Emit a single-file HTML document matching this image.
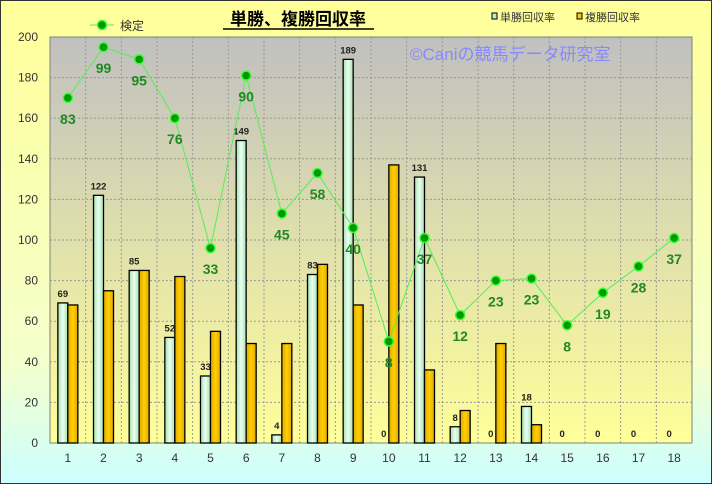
<!DOCTYPE html>
<html><head><meta charset="utf-8"><style>
body{margin:0;width:712px;height:484px;overflow:hidden}
text{font-family:"Liberation Sans","Noto Sans CJK JP",sans-serif}
</style></head><body>
<svg width="712" height="484" viewBox="0 0 712 484" xmlns="http://www.w3.org/2000/svg">
<defs>
<linearGradient id="bg" x1="0" y1="0" x2="0" y2="1"><stop offset="0" stop-color="#FFFF99"/><stop offset="0.75" stop-color="#F4FFCC"/><stop offset="1" stop-color="#CCFFFF"/></linearGradient>
<linearGradient id="pa" x1="0" y1="0" x2="0" y2="1"><stop offset="0" stop-color="#C0C0C0"/><stop offset="1" stop-color="#FFFF99"/></linearGradient>
<linearGradient id="gb" x1="0" y1="0" x2="1" y2="0"><stop offset="0" stop-color="#A8E0B0"/><stop offset="0.5" stop-color="#E8FFF0"/><stop offset="1" stop-color="#A8E0B0"/></linearGradient>
<linearGradient id="yb" x1="0" y1="0" x2="1" y2="0"><stop offset="0" stop-color="#E0A800"/><stop offset="0.5" stop-color="#FFD000"/><stop offset="1" stop-color="#E0A800"/></linearGradient>
</defs>
<rect x="0.5" y="0.5" width="711" height="483" fill="url(#bg)" stroke="#333"/>
<rect x="50" y="37" width="642" height="406" fill="url(#pa)" stroke="#808080"/>
<g id="grid" stroke="#999" stroke-dasharray="2,2" stroke-width="1"></g>
<g id="bars"></g>
<text x="410" y="60" font-size="17" fill="#8888FF">©Caniの競馬データ研究室</text>
<polyline id="ln" fill="none" stroke="#55EE55" stroke-width="1"/>
<g id="pts"></g>
<text x="298" y="25" font-size="17" font-weight="bold" text-anchor="middle" fill="#000">単勝、複勝回収率</text>
<line x1="223" y1="29" x2="374" y2="29" stroke="#000" stroke-width="1.5"/>
<line x1="90" y1="25" x2="114" y2="25" stroke="#55EE55"/><circle cx="102" cy="25" r="4.5" fill="#009900" stroke="#33FF33" stroke-width="1.5"/>
<text x="120" y="30" font-size="12" fill="#333">検定</text>
<rect x="492" y="13" width="5" height="6" fill="#C0F0C0" stroke="#000"/><text x="500" y="21" font-size="11" fill="#333">単勝回収率</text>
<rect x="577" y="13" width="5" height="6" fill="#FFCC00" stroke="#000"/><text x="585" y="21" font-size="11" fill="#333">複勝回収率</text>
<g id="ax" font-size="12" fill="#333"></g>
</svg>
<script>
const W=[69,122,85,52,33,149,4,83,189,0,131,8,0,18,0,0,0,0];
const P=[68,75,85,82,55,49,49,88,68,137,36,16,49,9,0,0,0,0];
const L=[170,195,189,160,96,181,113,133,106,50,101,63,80,81,58,74,87,101];
const LL=[83,99,95,76,33,90,45,58,40,8,37,12,23,23,8,19,28,37];
const y=v=>443-v*2.03, cw=642/18, cx=i=>50+cw*(i+0.5);
const ns="http://www.w3.org/2000/svg";
function el(p,t,a,txt){const e=document.createElementNS(ns,t);for(const k in a)e.setAttribute(k,a[k]);if(txt!=null)e.textContent=txt;document.getElementById(p).appendChild(e);return e;}
for(let v=20;v<200;v+=20)el('grid','line',{x1:50,x2:692,y1:y(v),y2:y(v)});
for(let i=1;i<18;i++)el('grid','line',{x1:50+cw*i,x2:50+cw*i,y1:37,y2:443});
for(let v=0;v<=200;v+=20)el('ax','text',{x:38,y:y(v)+4,'text-anchor':'end'},v);
let pts=[];
for(let i=0;i<18;i++){
 const c=cx(i);
 el('ax','text',{x:c,y:462,'text-anchor':'middle'},i+1);
 if(W[i]>0)el('bars','rect',{x:c-10,y:y(W[i]),width:10,height:W[i]*2.03,fill:'url(#gb)',stroke:'#000','stroke-width':1.3});
 if(P[i]>0)el('bars','rect',{x:c,y:y(P[i]),width:10,height:P[i]*2.03,fill:'url(#yb)',stroke:'#000','stroke-width':1.3});
 el('bars','text',{x:c-5,y:(W[i]>0?y(W[i]):443)-6,'font-size':9.5,'font-weight':'bold','text-anchor':'middle',fill:'#222'},W[i]);
 pts.push(c+','+y(L[i]));
}
document.getElementById('ln').setAttribute('points',pts.join(' '));
for(let i=0;i<18;i++){const c=cx(i);
 el('pts','circle',{cx:c,cy:y(L[i]),r:4.5,fill:'#009900',stroke:'#33FF33','stroke-width':1.5});
 el('pts','text',{x:c,y:y(L[i])+26,'font-size':14,'font-weight':'bold','text-anchor':'middle',fill:'#228822'},LL[i]);
}
</script>
</body></html>
